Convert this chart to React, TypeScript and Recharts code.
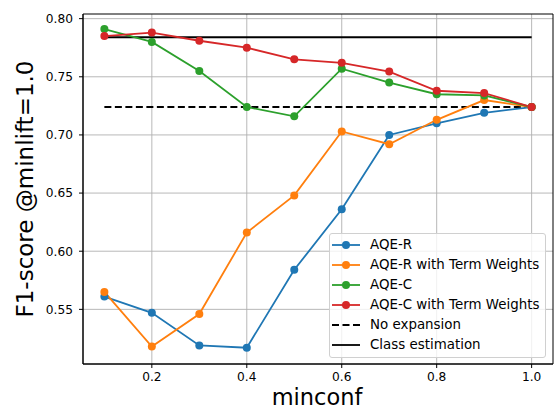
import { LineChart, Line, XAxis, YAxis, CartesianGrid, ReferenceArea, Label } from "recharts";

const minconf = [0.1, 0.2, 0.3, 0.4, 0.5, 0.6, 0.7, 0.8, 0.9, 1.0];
const aqeR = [0.561, 0.547, 0.519, 0.517, 0.584, 0.636, 0.7, 0.71, 0.719, 0.724];
const aqeRTw = [0.565, 0.518, 0.546, 0.616, 0.648, 0.703, 0.692, 0.713, 0.73, 0.724];
const aqeC = [0.791, 0.78, 0.755, 0.724, 0.716, 0.757, 0.745, 0.735, 0.734, 0.724];
const aqeCTw = [0.785, 0.788, 0.781, 0.775, 0.765, 0.762, 0.7545, 0.738, 0.736, 0.724];
const noExpansion = 0.724;
const classEstimation = 0.784;
const xTicks = [0.2, 0.4, 0.6, 0.8, 1.0];
const yTicks = [0.55, 0.6, 0.65, 0.7, 0.75, 0.8];

const data = minconf.map((x, i) => ({
  x,
  aqeR: aqeR[i],
  aqeRTw: aqeRTw[i],
  aqeC: aqeC[i],
  aqeCTw: aqeCTw[i],
}));
const noExpData = [
  { x: minconf[0], y: noExpansion },
  { x: minconf[minconf.length - 1], y: noExpansion },
];
const classData = [
  { x: minconf[0], y: classEstimation },
  { x: minconf[minconf.length - 1], y: classEstimation },
];

const SERIES = [
  { key: "aqeR", name: "AQE-R", color: "#1f77b4" },
  { key: "aqeRTw", name: "AQE-R with Term Weights", color: "#ff7f0e" },
  { key: "aqeC", name: "AQE-C", color: "#2ca02c" },
  { key: "aqeCTw", name: "AQE-C with Term Weights", color: "#d62728" },
];

const FONT = "'DejaVu Sans', sans-serif";
const tick = { fontSize: 12.2, fill: "#000", fontFamily: FONT };

function LegendBox() {
  const rows = [
    ...SERIES.map((s) => ({ name: s.name, color: s.color, dash: false, marker: true })),
    { name: "No expansion", color: "#000", dash: true, marker: false },
    { name: "Class estimation", color: "#000", dash: false, marker: false },
  ];
  return (
    <div
      style={{
        position: "absolute",
        left: 329,
        top: 233,
        width: 215,
        border: "1px solid #d0d0d0",
        borderRadius: 3,
        background: "rgba(255,255,255,0.8)",
        padding: "1px 0 2px 0",
        fontFamily: FONT,
        fontSize: 13.4,
        color: "#000",
        whiteSpace: "nowrap",
      }}
    >
      {rows.map((r) => (
        <div key={r.name} style={{ height: 20, display: "flex", alignItems: "center" }}>
          <svg width={36} height={20} style={{ marginLeft: 2 }}>
            <line
              x1={0}
              x2={28}
              y1={10}
              y2={10}
              stroke={r.color}
              strokeWidth={1.8}
              strokeDasharray={r.dash ? "7 3.5" : undefined}
            />
            {r.marker && <circle cx={14} cy={10} r={4} fill={r.color} />}
          </svg>
          <span style={{ marginLeft: 2, lineHeight: "20px" }}>{r.name}</span>
        </div>
      ))}
    </div>
  );
}

export default function App() {
  return (
    <div style={{ position: "absolute", left: 0, top: 0, width: 557, height: 410, background: "#fff" }}>
      <LineChart width={557} height={410} data={data} margin={{ top: 14, right: 4, bottom: 16, left: 23 }}>
        <CartesianGrid stroke="#b0b0b0" strokeWidth={0.9} horizontalValues={yTicks} verticalValues={xTicks} />
        <XAxis
          dataKey="x"
          type="number"
          domain={[0.055, 1.045]}
          ticks={xTicks}
          tickFormatter={(v) => v.toFixed(1)}
          tick={tick}
          tickSize={4}
          tickMargin={4}
          stroke="#000"
          height={30}
          allowDataOverflow
        >
          <Label
            content={() => (
              <text x={317} y={405} textAnchor="middle" fontSize={22.5} fontFamily={FONT} fill="#000">
                minconf
              </text>
            )}
          />
        </XAxis>
        <YAxis
          type="number"
          domain={[0.503, 0.804]}
          ticks={yTicks}
          tickFormatter={(v) => v.toFixed(2)}
          tick={tick}
          tickSize={4}
          tickMargin={6}
          stroke="#000"
          width={60}
          allowDataOverflow
        >
          <Label
            content={() => (
              <text
                x={33}
                y={189}
                textAnchor="middle"
                fontSize={23}
                fontFamily={FONT}
                fill="#000"
                transform="rotate(-90 33 189)"
              >
                F1-score @minlift=1.0
              </text>
            )}
          />
        </YAxis>
        <ReferenceArea x1={0.055} x2={1.045} y1={0.503} y2={0.804} fill="none" stroke="#000" strokeWidth={1} />
        <Line
          data={noExpData}
          dataKey="y"
          stroke="#000"
          strokeWidth={1.8}
          strokeDasharray="7 3.5"
          dot={false}
          isAnimationActive={false}
        />
        <Line data={classData} dataKey="y" stroke="#000" strokeWidth={1.8} dot={false} isAnimationActive={false} />
        {SERIES.map((s) => (
          <Line
            key={s.key}
            dataKey={s.key}
            name={s.name}
            stroke={s.color}
            strokeWidth={1.8}
            dot={{ r: 4, fill: s.color, stroke: s.color, strokeWidth: 0 }}
            activeDot={false}
            isAnimationActive={false}
          />
        ))}
      </LineChart>
      <LegendBox />
    </div>
  );
}
